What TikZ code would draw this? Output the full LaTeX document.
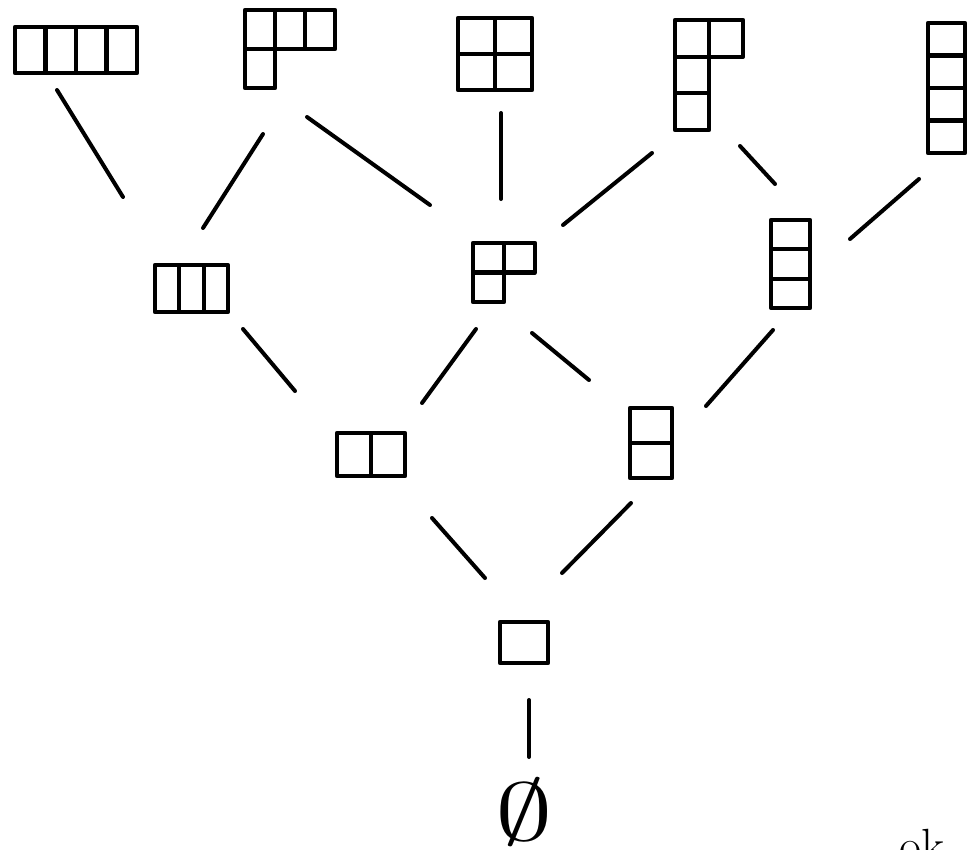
\documentclass[tikz,border=0pt]{standalone}
\usetikzlibrary{calc}
\begin{document}
\begin{tikzpicture}[x=1pt, y=-1pt]

  % Styles for diagrams and links
  \tikzset{
    diag/.style={rectangle, inner sep=0pt, outer sep=0pt},
    cell/.style={line width=4.2pt, line join=round},
    link/.style={line width=4pt, line cap=round}
  }

  % Page frame
  \useasboundingbox (0,0) rectangle (973,849);
  \clip (0,0) rectangle (973,849);
  \fill[white] (0,0) rectangle (973,849);

  % Rank 4
  \node[diag, minimum width=122pt, minimum height=46pt] (p4) at (76,50) {};
  \foreach \c/\r in {0/0,1/0,2/0,3/0}
    \draw[cell] ($(p4.north west)+(\c*30.5,\r*46)$) rectangle +(30.5,46);

  \node[diag, minimum width=90pt, minimum height=78pt] (p31) at (290,49) {};
  \foreach \c/\r in {0/0,1/0,2/0,0/1}
    \draw[cell] ($(p31.north west)+(\c*30,\r*39)$) rectangle +(30,39);

  \node[diag, minimum width=74pt, minimum height=72pt] (p22) at (495,54) {};
  \foreach \c/\r in {0/0,1/0,0/1,1/1}
    \draw[cell] ($(p22.north west)+(\c*37,\r*36)$) rectangle +(37,36);

  \node[diag, minimum width=68pt, minimum height=110pt] (p211) at (709,75) {};
  \foreach \c/\r in {0/0,1/0,0/1,0/2}
    \draw[cell] ($(p211.north west)+(\c*34,\r*36.67)$) rectangle +(34,36.67);

  \node[diag, minimum width=37pt, minimum height=130pt] (p1111) at (946.5,88) {};
  \foreach \c/\r in {0/0,0/1,0/2,0/3}
    \draw[cell] ($(p1111.north west)+(\c*37,\r*32.5)$) rectangle +(37,32.5);

  % Rank 3
  \node[diag, minimum width=73pt, minimum height=47pt] (p3) at (191.5,288.5) {};
  \foreach \c/\r in {0/0,1/0,2/0}
    \draw[cell] ($(p3.north west)+(\c*24.33,\r*47)$) rectangle +(24.33,47);

  \node[diag, minimum width=62pt, minimum height=59pt] (p21) at (504,272.5) {};
  \foreach \c/\r in {0/0,1/0,0/1}
    \draw[cell] ($(p21.north west)+(\c*31,\r*29.5)$) rectangle +(31,29.5);

  \node[diag, minimum width=39pt, minimum height=88pt] (p111) at (790.5,264) {};
  \foreach \c/\r in {0/0,0/1,0/2}
    \draw[cell] ($(p111.north west)+(\c*39,\r*29.33)$) rectangle +(39,29.33);

  % Rank 2
  \node[diag, minimum width=68pt, minimum height=43pt] (p2) at (371,454.5) {};
  \foreach \c/\r in {0/0,1/0}
    \draw[cell] ($(p2.north west)+(\c*34,\r*43)$) rectangle +(34,43);

  \node[diag, minimum width=42pt, minimum height=70pt] (p11) at (651,443) {};
  \foreach \c/\r in {0/0,0/1}
    \draw[cell] ($(p11.north west)+(\c*42,\r*35)$) rectangle +(42,35);

  % Rank 1 and empty partition
  \node[diag, draw, cell, minimum width=48pt, minimum height=41pt] (p1) at (524,642.5) {};
  \node[transform shape, xscale=11.5, yscale=8.2, inner sep=0pt] (p0) at (524,812) {$\emptyset$};

  % Links between ranks
  \draw[link] ([shift={(-19,17)}]p4.south) -- ([shift={(-68.5,-68)}]p3.north);
  \draw[link] ([shift={(-27,46)}]p31.south) -- ([shift={(11.5,-37)}]p3.north);
  \draw[link] ([shift={(17,29)}]p31.south) -- ([shift={(-74,-38)}]p21.north);
  \draw[link] ([shift={(6,23)}]p22.south) -- ([shift={(-3,-44)}]p21.north);
  \draw[link] ([shift={(-57,23)}]p211.south) -- ([shift={(59,-18)}]p21.north);
  \draw[link] ([shift={(31,16)}]p211.south) -- ([shift={(-15.5,-36)}]p111.north);
  \draw[link] ([shift={(-27.5,26)}]p1111.south) -- ([shift={(40,-25)}]p111.east);

  \draw[link] ([shift={(51.5,17)}]p3.south) -- ([shift={(-76,-42)}]p2.north);
  \draw[link] ([shift={(-28,27)}]p21.south) -- ([shift={(51,-30)}]p2.north);
  \draw[link] ([shift={(28,31)}]p21.south) -- ([shift={(-62,-28)}]p11.north);
  \draw[link] ([shift={(-17.5,22)}]p111.south) -- ([shift={(55,-2)}]p11.north);

  \draw[link] ([shift={(61,42)}]p2.south) -- ([shift={(-39,-44)}]p1.north);
  \draw[link] ([shift={(-20,25)}]p11.south) -- ([shift={(38,-49)}]p1.north);
  \draw[link] ([shift={(5,37)}]p1.south) -- ([shift={(5,-55)}]p0.center);

  % Note at the lower edge
  \node[anchor=base west, inner sep=0pt, font=\fontsize{48}{54}\selectfont] (note) at (899,862) {ok};

\end{tikzpicture}
\end{document}
